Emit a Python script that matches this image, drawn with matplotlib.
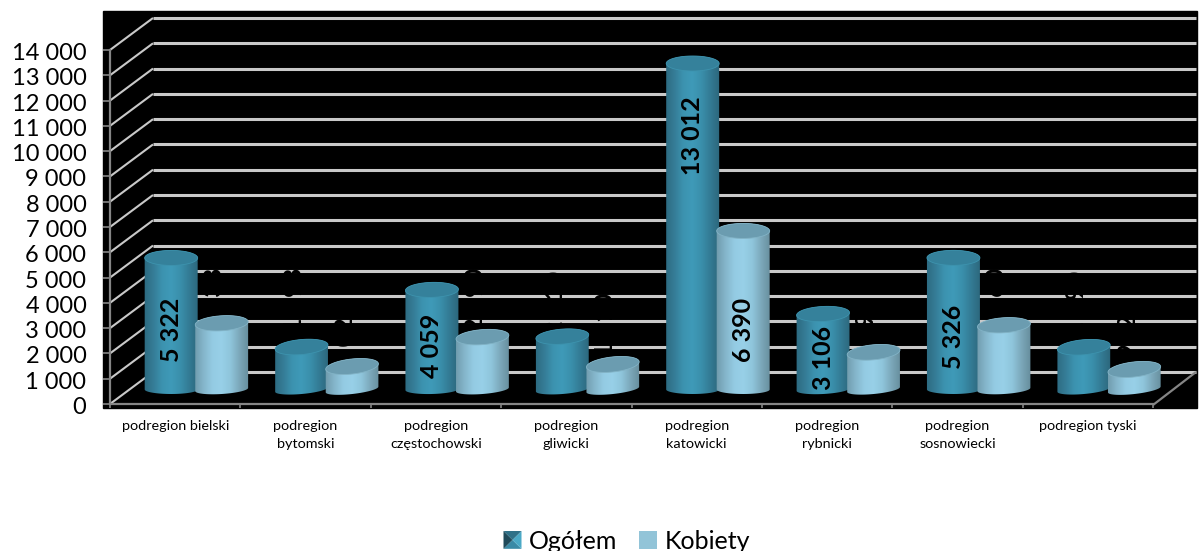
import numpy as np
import matplotlib
matplotlib.use("Agg")
import matplotlib.pyplot as plt
from matplotlib.colors import LinearSegmentedColormap
from matplotlib.legend_handler import HandlerBase
from matplotlib.lines import Line2D
from matplotlib.patches import Patch, Polygon, Rectangle
from matplotlib.path import Path
from matplotlib.transforms import IdentityTransform, ScaledTranslation

categories = ["podregion bielski", "podregion\nbytomski", "podregion\nczęstochowski",
              "podregion\ngliwicki", "podregion\nkatowicki", "podregion\nrybnicki",
              "podregion\nsosnowiecki", "podregion tyski"]
ogolem = [5322, 1798, 4059, 2210, 13012, 3106, 5326, 1790]
kobiety = [2738, 1028, 2190, 1110, 6390, 1590, 2660, 912]
y_ticks = list(range(0, 15000, 1000))
series_names = ["Ogółem", "Kobiety"]

# label centres in figure pixels from the top (placement only)
label_y_ogolem = [330, 300, 346, 303, 136, 358, 337, 303]
label_y_kobiety = [300, 335, 300, 325, 330, 330, 300, 335]
visible_ogolem = [True, False, True, False, True, True, True, False]
visible_kobiety = [False, False, False, False, True, False, False, False]

W, H = 1204, 551
plt.rcParams["font.family"] = ["Lato", "DejaVu Sans"]
fig = plt.figure(figsize=(W / 100, H / 100), dpi=100, facecolor="white")
fig.add_artist(Rectangle((103 / W, 1 - 408 / H), (1197 - 103) / W, (408 - 11) / H,
                         transform=fig.transFigure, color="black", zorder=-5))
ax = fig.add_axes([110 / W, 1 - 404 / H, (1153 - 110) / W, (404 - 50) / H])
ax.patch.set_visible(False)
ax.set_xlim(0, len(categories))
ax.set_ylim(0, 14000)

GRAY = "#858585"
for s in ("top", "right"):
    ax.spines[s].set_visible(False)
for s in ("left", "bottom"):
    ax.spines[s].set_color(GRAY)
    ax.spines[s].set_linewidth(1.6)
ax.set_yticks(y_ticks)
ax.set_yticklabels([f"{v:,}".replace(",", " ") for v in y_ticks], fontsize=17)
ax.tick_params(axis="y", length=5, width=1.2, color=GRAY, pad=12)
nudge = ScaledTranslation(0, -1.5 / 100, fig.dpi_scale_trans)
for t in ax.get_yticklabels():
    t.set_transform(t.get_transform() + nudge)
ax.set_xticks(range(len(categories) + 1))
ax.set_xticklabels([])
ax.tick_params(axis="x", length=3, width=1.2, color=GRAY)
ax.set_xticks(np.arange(len(categories)) + 0.5, minor=True)
ax.set_xticklabels(categories, minor=True, fontsize=10.4, linespacing=1.6)
ax.tick_params(axis="x", which="minor", length=0, pad=11.5)

identity = IdentityTransform()
DX, DY = 43, 32
GRID = "#c9c9c9"


def px(x, v):
    return ax.transData.transform((x, v))


def seg(p, q, color, lw, z):
    ax.add_line(Line2D([p[0], q[0]], [p[1], q[1]], color=color, lw=lw, zorder=z,
                       transform=identity, clip_on=False, solid_capstyle="butt"))


n = len(categories)
off = np.array([DX, DY])
for v in y_ticks:
    a, b = px(0, v), px(n, v)
    seg(a, a + off, GRID, 1.5, 1)
    seg(a + off, b + off, GRID, 2.2, 1)
seg(px(n, 0) + [0, -1], px(n, 0) + off, GRAY, 1.6, 1)

cm_o = LinearSegmentedColormap.from_list("o", ["#2c6a80", "#357c96", "#3c93b0", "#3f9ab8", "#3a8fab", "#337a93", "#2c667b"])
cm_k = LinearSegmentedColormap.from_list("k", ["#6f9aab", "#84b5ca", "#94cbe3", "#98d0e8", "#8fc5db", "#7ba7b9", "#668d9c"])
grad = np.linspace(0, 1, 128).reshape(1, -1)

HALF = 26.5
TOP_DY = 11.5
BASE_DY = 14.5


def ell(cx, cy, b, tilt, t):
    x = HALF * np.cos(t)
    y = b * np.sin(t)
    c, s = np.cos(tilt), np.sin(tilt)
    return np.column_stack([cx + x * c - y * s, cy + x * s + y * c])


def cylinder(x, value, shift, cmap, top, rim, z):
    cx = px(x, 0)[0] + shift
    y0 = px(x, 0)[1] + BASE_DY
    y1 = px(x, value)[1] + TOP_DY
    tilt = np.radians(8 * max(0.0, 1 - value / 5000))
    base = ell(cx, y0, 4.5, tilt, np.linspace(np.pi, 2 * np.pi, 40))
    cap = ell(cx, y1, 7.5, tilt, np.linspace(0, np.pi, 40))
    body = np.vstack([base, cap, base[:1]])
    im = ax.imshow(grad, cmap=cmap, aspect="auto", zorder=z, interpolation="bilinear",
                   extent=(cx - HALF - 1, cx + HALF + 1, y0 - 12, y1 + 12), transform=identity)
    im.set_clip_box(fig.bbox)
    im.set_clip_path(Path(body), identity)
    full = ell(cx, y1, 7.5, tilt, np.linspace(0, 2 * np.pi, 80))
    ax.add_patch(Polygon(full, closed=True, facecolor=top, edgecolor=rim, lw=0.6,
                         transform=identity, zorder=z + 0.1, clip_on=False))


for i in range(n):
    x = i + 0.5
    cylinder(x, ogolem[i], -4, cm_o, "#35819b", "#3d93ae", 3)
    cylinder(x, kobiety[i], 46.5, cm_k, "#6b9cb0", "#82b3c6", 3.5)


def label(x, shift, value, ytop, visible):
    p = px(x, 0)
    dx = shift if visible else shift - 7
    z = 6 if visible else 2
    yd = H - ytop
    ax.text(p[0] + dx, yd, f"{value:,}".replace(",", " "), rotation=90, ha="center", va="center",
            fontsize=18, fontweight="bold", color="black", transform=identity, zorder=z, clip_on=False)


for i in range(n):
    label(i + 0.5, -4, ogolem[i], label_y_ogolem[i], visible_ogolem[i])
    label(i + 0.5, 46.5, kobiety[i], label_y_kobiety[i], visible_kobiety[i])

ax.set_xlim(0, n)
ax.set_ylim(0, 14000)


class Pyramid(HandlerBase):
    def create_artists(self, legend, orig, x0, y0, w, h, fontsize, trans):
        cols = ["#3a8aa6", "#4aa9c6", "#2f7188", "#1f4a5a"]
        mx, my = x0 + w / 2, y0 + h / 2
        c = [(x0, y0), (x0 + w, y0), (x0 + w, y0 + h), (x0, y0 + h)]
        out = []
        for k in range(4):
            out.append(Polygon([c[k], c[(k + 1) % 4], (mx, my)], closed=True, facecolor=cols[k],
                               edgecolor="none", transform=trans))
        return out


h1 = Patch(facecolor="#3f9ab8", label=series_names[0])
h2 = Patch(facecolor="#92c4d8", label=series_names[1])
fig.legend(handles=[h1, h2], labels=series_names, ncol=2, frameon=False, fontsize=18,
           loc="lower left", bbox_to_anchor=(483.5 / W, -22 / H), handlelength=0.72, handleheight=0.72,
           handletextpad=0.28, columnspacing=0.9, borderpad=0.3,
           handler_map={h1: Pyramid()})

fig.savefig("out.png", dpi=100, facecolor="white")
